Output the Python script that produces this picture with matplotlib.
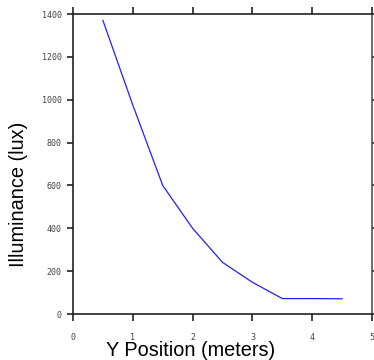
import numpy as np
import matplotlib.pyplot as plt

dpi = 100

# illuminance along the Y direction
y_pos = [0.5, 1.0, 1.5, 2.0, 2.5, 3.0, 3.5, 4.0, 4.5]
lux = [1370, 975, 600, 400, 241, 148, 72, 72, 71]

x_ticks = [0, 1, 2, 3, 4, 5]
y_ticks = [0, 200, 400, 600, 800, 1000, 1200, 1400]

fig = plt.figure(figsize=(374/dpi, 360/dpi), dpi=dpi)
ax = fig.add_axes([73/374, 46/360, 299/374, 300/360])

ax.plot(y_pos, lux, c='#2020ff', lw=0.9)

ax.set_xlim(0, 5)
ax.set_ylim(0, 1400)
ax.set_xticks(x_ticks)
ax.set_yticks(y_ticks)

for s in ax.spines.values():
    s.set_color('#222222')
    s.set_linewidth(1.2)
ax.spines['right'].set_color('#555555')

ax.tick_params(which='both', direction='out', length=5, width=1.2, color='#222222',
               top=True, right=True, labelsize=6, labelcolor='#444444', pad=4)
ax.tick_params(axis='x', pad=9)
ax.tick_params(axis='y', which='both', right=True, length=4)
for lbl in ax.get_xticklabels() + ax.get_yticklabels():
    lbl.set_family('DejaVu Sans Mono')

ax.set_xlabel('Y Position (meters)', family='Liberation Sans', fontsize=14.3)
ax.xaxis.set_label_coords(191/374, 9/360, transform=fig.transFigure)
ax.set_ylabel('Illuminance (lux)', family='Liberation Sans', fontsize=14.3)
ax.yaxis.set_label_coords(18.5/374, 166/360, transform=fig.transFigure)
ax.xaxis.label.set_va('center')
ax.yaxis.label.set_va('center')

plt.savefig('out.png', dpi=dpi)
